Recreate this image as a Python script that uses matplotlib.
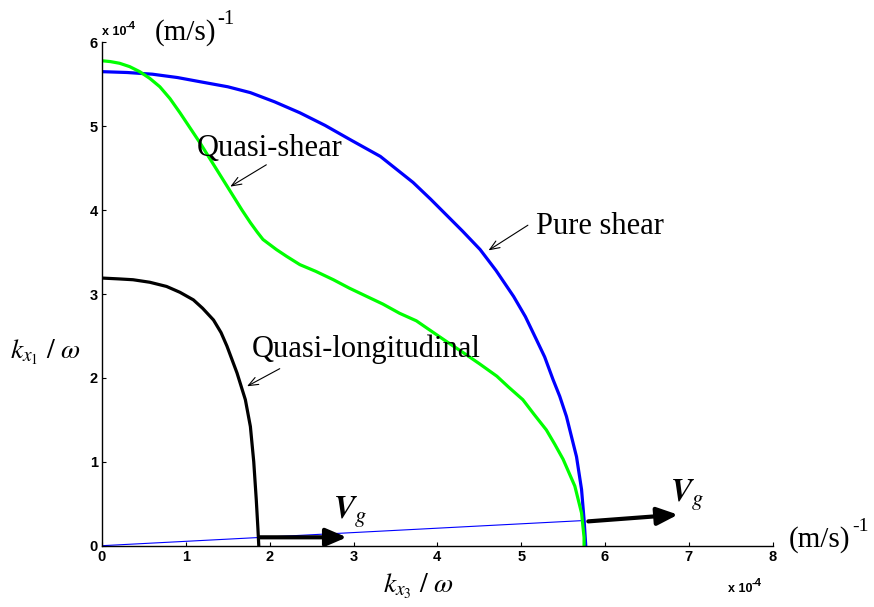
import numpy as np
import matplotlib
matplotlib.use('Agg')
import matplotlib.pyplot as plt

plt.rcParams['mathtext.fontset'] = 'stix'
plt.rcParams['font.family'] = 'Liberation Sans'

# slowness curves, units of 1e-4 (m/s)^-1
pure_x = [0.0, 0.3, 0.6, 0.9, 1.17, 1.5, 1.77, 2.06, 2.36, 2.66, 2.96, 3.32, 3.71, 3.92, 4.11,
          4.3, 4.51, 4.7, 4.91, 5.05, 5.18, 5.28, 5.38, 5.46, 5.54, 5.6, 5.66, 5.72, 5.75, 5.77]
pure_y = [5.65, 5.64, 5.62, 5.58, 5.53, 5.47, 5.40, 5.29, 5.16, 5.01, 4.84, 4.64, 4.33, 4.13, 3.94,
          3.75, 3.53, 3.28, 2.97, 2.73, 2.46, 2.25, 1.98, 1.78, 1.54, 1.30, 1.06, 0.67, 0.31, 0.0]

qs_x = [0.0, 0.1, 0.21, 0.33, 0.45, 0.57, 0.69, 0.81, 0.93, 1.05, 1.17, 1.27, 1.37, 1.47, 1.57,
        1.67, 1.77, 1.85, 1.92, 2.0, 2.08, 2.2, 2.36, 2.55, 2.76, 2.95, 3.16, 3.35, 3.55, 3.75,
        3.91, 4.1, 4.31, 4.5, 4.71, 4.85, 5.02, 5.15, 5.30, 5.40, 5.50, 5.57, 5.64, 5.68, 5.72,
        5.75, 5.75]
qs_y = [5.78, 5.77, 5.75, 5.71, 5.65, 5.57, 5.47, 5.33, 5.16, 4.98, 4.80, 4.64, 4.48, 4.32, 4.16,
        4.00, 3.85, 3.74, 3.65, 3.59, 3.53, 3.45, 3.35, 3.27, 3.17, 3.07, 2.97, 2.88, 2.77, 2.68,
        2.57, 2.44, 2.30, 2.17, 2.02, 1.89, 1.74, 1.57, 1.38, 1.21, 1.03, 0.87, 0.71, 0.55, 0.39,
        0.10, 0.0]

ql_x = [0.0, 0.2, 0.37, 0.57, 0.77, 0.93, 1.09, 1.2, 1.33, 1.42, 1.49, 1.55, 1.61, 1.66, 1.71,
        1.74, 1.77, 1.81, 1.84, 1.86, 1.87]
ql_y = [3.19, 3.18, 3.17, 3.14, 3.09, 3.02, 2.93, 2.83, 2.69, 2.54, 2.38, 2.22, 2.06, 1.90, 1.74,
        1.58, 1.42, 1.00, 0.55, 0.20, 0.0]

# ray towards the pure shear cusp
ray_x = [0.0, 5.75]
ray_y = [0.0, 0.30]

# group velocity arrows (start, end)
vg1 = [(1.88, 0.10), (2.92, 0.10)]
vg2 = [(5.80, 0.29), (6.87, 0.37)]

xticks = [0, 1, 2, 3, 4, 5, 6, 7, 8]
yticks = [0, 1, 2, 3, 4, 5, 6]

W, H = 874, 607
fig = plt.figure(figsize=(W / 100, H / 100), dpi=100)
ax = fig.add_axes([102 / W, 1 - 545.7 / H, 670.7 / W, 503.4 / H])

ax.plot(ray_x, ray_y, color='#0000ff', lw=0.8)
ax.plot(pure_x, pure_y, color='#0000ff', lw=2.3)
ax.plot(qs_x, qs_y, color='#00ff00', lw=2.3)
ax.plot(ql_x, ql_y, color='k', lw=2.3)

ax.set_xlim(0, 8)
ax.set_ylim(0, 6)
ax.set_xticks(xticks)
ax.set_yticks(yticks)
ax.set_xticklabels([str(t) for t in xticks], fontweight='bold', fontsize=10.5)
ax.set_yticklabels([str(t) for t in yticks], fontweight='bold', fontsize=10.5)
ax.tick_params(direction='in', length=3, width=0.8, pad=3)
for s in ['top', 'right']:
    ax.spines[s].set_visible(False)
for s in ['left', 'bottom']:
    ax.spines[s].set_linewidth(1.0)

# thick V_g arrows
for (p0, p1) in [vg1, vg2]:
    ax.annotate('', xy=p1, xytext=p0,
                arrowprops=dict(arrowstyle='-|>,head_length=0.7,head_width=0.3',
                                lw=3, color='k', shrinkA=0, shrinkB=0,
                                mutation_scale=18))

serif = 'Liberation Serif'
ax.text(2.76, 0.32, r'$\mathbfit{V}_{g}$', fontsize=23)
ax.text(6.77, 0.52, r'$\mathbfit{V}_{g}$', fontsize=23)

# curve labels with pointer arrows
labels = [
    ('Quasi-shear', (1.13, 4.64), (1.96, 4.54), (1.53, 4.28)),
    ('Pure shear', (5.18, 3.72), (5.08, 3.82), (4.61, 3.52)),
    ('Quasi-longitudinal', (1.79, 2.25), (2.12, 2.11), (1.73, 1.90)),
]
for txt, pos, a0, a1 in labels:
    ax.text(pos[0], pos[1], txt, family=serif, fontsize=22, va='baseline')
    ax.annotate('', xy=a1, xytext=a0,
                arrowprops=dict(arrowstyle='->,head_length=0.5,head_width=0.2',
                                lw=0.8, color='k', shrinkA=0, shrinkB=0,
                                mutation_scale=14))

def px(x, y):
    return x / W, 1 - y / H

# axis labels and units
fig.text(*px(10, 352), r'$k_{x_1}\ /\ \omega$', fontsize=20, va='center')
fig.text(*px(383, 586), r'$k_{x_3}\ /\ \omega$', fontsize=20, va='center')

fig.text(*px(789, 547), '(m/s)', family=serif, fontsize=21, va='baseline')
fig.text(*px(852, 531), '-1', family=serif, fontsize=14, va='baseline')
fig.text(*px(155, 40), '(m/s)', family=serif, fontsize=21, va='baseline')
fig.text(*px(217, 24), '-1', family=serif, fontsize=15, va='baseline')

fig.text(*px(102, 35), 'x 10', fontweight='bold', fontsize=9, va='baseline')
fig.text(*px(126, 29), '-4', fontweight='bold', fontsize=8, va='baseline')
fig.text(*px(728, 592), 'x 10', fontweight='bold', fontsize=9, va='baseline')
fig.text(*px(752, 586), '-4', fontweight='bold', fontsize=8, va='baseline')

fig.savefig('out.png', dpi=100)
